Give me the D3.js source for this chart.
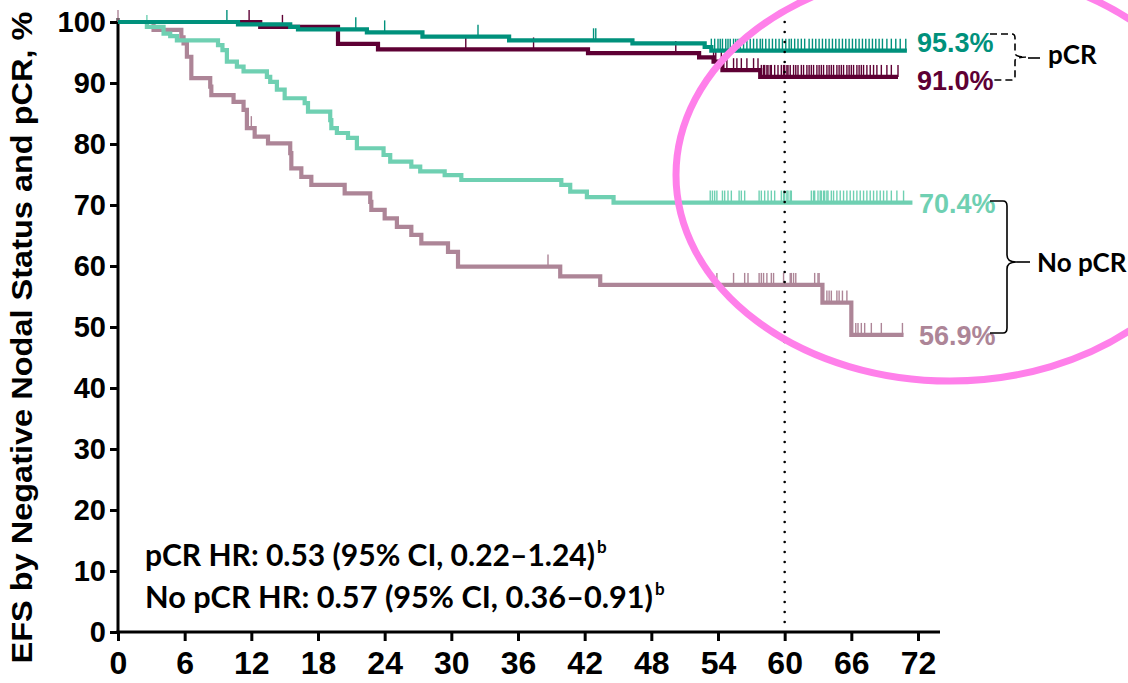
<!DOCTYPE html>
<html>
<head>
<meta charset="utf-8">
<script src="https://cdn.jsdelivr.net/npm/d3@7"></script>
<style>
  body { margin: 0; background: #fff; }
  svg { display: block; }
</style>
</head>
<body>
<script>
// Axis ticks
const xTicks = [0, 6, 12, 18, 24, 30, 36, 42, 48, 54, 60, 66, 72];
const yTicks = [0, 10, 20, 30, 40, 50, 60, 70, 80, 90, 100];

// pCR, dark teal arm
const pcrTealTimes  = [0, 10.8, 15.5, 16.2, 22.4, 27.4, 35.2, 46.3, 52.8, 53.4];
const pcrTealValues = [100, 99.6, 99.2, 98.8, 98.3, 97.6, 97.0, 96.5, 95.9, 95.3];
const pcrTealEnd = 71.0;
const pcrTealCensor = [9.8, 21.4, 24.0, 32.4, 42.8, 43.0,
  53.4, 53.7, 54.0, 54.2, 54.4, 54.7, 54.9, 55.1, 55.4, 55.6, 55.8, 56.0, 56.3, 56.6,
  56.9, 57.2, 57.5, 57.8, 58.0, 58.3, 58.6, 58.9, 59.2, 59.5, 59.8, 60.1, 60.4, 60.6,
  60.9, 61.2, 61.5, 61.8, 62.2, 62.5, 62.8, 63.1, 63.4, 63.7, 64.0, 64.3, 64.6, 64.9,
  65.2, 65.5, 65.8, 66.1, 66.4, 66.7, 67.0, 67.3, 67.6, 67.9, 68.2, 68.5, 68.8, 69.2,
  69.6, 70.0, 70.4, 70.9];

// pCR, maroon arm
const pcrMaroonTimes  = [0, 12.8, 19.8, 23.4, 42.3, 52.3, 53.6, 54.4, 57.8];
const pcrMaroonValues = [100, 99.2, 96.4, 95.5, 94.9, 94.2, 93.5, 92.1, 91.0];
const pcrMaroonEnd = 70.2;
const pcrMaroonCensor = [11.8, 14.8, 31.3, 37.4, 50.2,
  53.6, 53.8, 54.3, 54.8, 55.4, 55.7, 56.1, 56.6, 57.2, 57.6, 57.9, 58.1, 58.2, 58.4,
  58.5, 58.7, 58.8, 59.1, 59.4, 59.7, 59.9, 60.0, 60.2, 60.3, 60.5, 60.8, 61.0, 61.2,
  61.5, 61.7, 62.0, 62.2, 62.4, 62.6, 62.9, 63.1, 63.3, 63.5, 63.8, 64.0, 64.2, 64.4,
  64.7, 64.9, 65.1, 65.3, 65.6, 65.8, 66.0, 66.2, 66.5, 66.7, 66.9, 67.1, 67.4, 67.7,
  68.0, 68.3, 68.7, 69.2, 69.6, 70.2];

// No pCR, light teal arm
const noPcrTealTimes  = [0, 2.6, 4.1, 4.7, 5.3, 9.0, 9.4, 9.8, 10.7, 11.3, 13.4, 13.7, 14.3,
  15.0, 16.8, 17.1, 19.1, 19.2, 19.7, 20.7, 21.5, 23.9, 24.5, 26.4, 27.2, 29.4, 30.9,
  39.9, 40.7, 42.2, 44.6];
const noPcrTealValues = [100, 99.2, 98.1, 97.7, 97.0, 96.2, 95.4, 93.5, 92.7, 91.9, 91.0, 90.2,
  88.9, 87.5, 86.7, 85.3, 83.9, 82.6, 81.8, 81.0, 79.3, 78.2, 77.1, 76.3, 75.5, 74.9,
  74.1, 73.3, 72.2, 71.3, 70.4];
const noPcrTealEnd = 71.5;
const noPcrTealCensor = [2.6,
  53.3, 53.5, 53.7, 53.9, 54.4, 54.6, 54.9, 55.2, 55.9, 56.1, 56.4, 57.7, 57.9, 58.2,
  58.5, 58.8, 59.1, 59.7, 59.9, 60.0, 60.2, 60.3, 60.5, 60.6, 62.4, 62.6, 62.7, 63.0,
  63.2, 63.3, 63.5, 63.6, 63.8, 63.9, 64.2, 64.4, 64.7, 65.0, 65.3, 65.6, 65.9, 66.2,
  66.5, 66.8, 67.1, 67.4, 67.7, 68.0, 68.3, 68.6, 68.9, 69.2, 69.6, 70.1, 70.7];

// No pCR, mauve arm
const noPcrMauveTimes  = [0, 3.2, 5.7, 5.9, 6.2, 6.6, 8.3, 8.4, 10.4, 11.3, 11.6, 12.3, 13.5,
  15.5, 15.6, 16.5, 17.4, 20.4, 22.7, 22.8, 24.0, 25.1, 26.4, 27.3, 29.7, 30.6, 39.8,
  43.4, 63.4, 66.0];
const noPcrMauveValues = [100, 98.7, 97.5, 96.5, 94.3, 90.8, 89.4, 88.0, 86.9, 85.6, 82.6,
  81.2, 80.1, 78.5, 76.0, 74.6, 73.3, 71.9, 70.5, 69.2, 67.8, 66.4, 65.1, 63.7, 62.3,
  59.9, 58.3, 56.9, 54.0, 48.7];
const noPcrMauveEnd = 70.7;
const noPcrMauveCensor = [0, 12.0, 38.7,
  53.9, 55.4, 56.4, 56.7, 57.7, 57.9, 58.1, 58.4, 58.8, 59.0, 59.9, 60.5, 60.6, 60.8,
  61.0, 62.7, 63.0, 63.1, 63.8, 64.0, 64.2, 64.7, 64.9, 65.2, 65.6, 66.4, 66.6, 66.9,
  67.2, 67.8, 68.7, 70.6];

// Landmark labels at 60 months
const labelTexts  = ["95.3%", "91.0%", "70.4%", "56.9%"];
const hrLines = ["pCR HR: 0.53 (95% CI, 0.22\u20131.24)", "No pCR HR: 0.57 (95% CI, 0.36\u20130.91)"];

const width = 1128, height = 683;

const svg = d3.select("body").append("svg")
    .attr("width", width)
    .attr("height", height);

const x = d3.scaleLinear().domain([0, 72]).range([118, 918]);
const y = d3.scaleLinear().domain([0, 100]).range([632, 22]);

const series = [
    { times: noPcrMauveTimes, values: noPcrMauveValues, end: noPcrMauveEnd, censor: noPcrMauveCensor, color: "#ad8597" },
    { times: noPcrTealTimes, values: noPcrTealValues, end: noPcrTealEnd, censor: noPcrTealCensor, color: "#6fd0b2" },
    { times: pcrMaroonTimes, values: pcrMaroonValues, end: pcrMaroonEnd, censor: pcrMaroonCensor, color: "#5e0034" },
    { times: pcrTealTimes, values: pcrTealValues, end: pcrTealEnd, censor: pcrTealCensor, color: "#00917c" }
];

// y axis
const yAxis = svg.append("g")
    .attr("transform", `translate(${x(0)},0)`)
    .call(d3.axisLeft(y).tickValues(yTicks).tickSize(8).tickPadding(4).tickSizeOuter(0));
yAxis.select(".domain").remove();
yAxis.append("line").attr("x1", 0).attr("x2", 0).attr("y1", y(0) + 1.5).attr("y2", 18)
    .attr("stroke", "#000").attr("stroke-width", 3);
yAxis.selectAll(".tick line").attr("stroke-width", 3);
yAxis.selectAll(".tick text")
    .attr("fill", "#000")
    .style("font-family", "'Liberation Sans', Arial, sans-serif")
    .style("font-weight", "bold")
    .style("font-size", "29px");

// x axis
const xAxis = svg.append("g")
    .attr("transform", `translate(0,${y(0)})`)
    .call(d3.axisBottom(x).tickValues(xTicks).tickSize(9).tickPadding(10).tickSizeOuter(0));
xAxis.select(".domain").remove();
xAxis.append("line").attr("x1", x(0) - 1.5).attr("x2", 940).attr("y1", 0).attr("y2", 0)
    .attr("stroke", "#000").attr("stroke-width", 3);
xAxis.selectAll(".tick line").attr("stroke-width", 3);
xAxis.selectAll(".tick text")
    .attr("fill", "#000")
    .style("font-family", "'Liberation Sans Narrow', 'Arial Narrow', sans-serif")
    .style("font-weight", "bold")
    .style("font-size", "32px");

// y axis title
svg.append("text")
    .attr("transform", `translate(32,${(10 + 665) / 2}) rotate(-90)`)
    .attr("text-anchor", "middle")
    .attr("textLength", 652)
    .attr("lengthAdjust", "spacingAndGlyphs")
    .style("font-family", "'Liberation Sans', Arial, sans-serif")
    .style("font-weight", "bold")
    .style("font-size", "30px")
    .text("EFS by Negative Nodal Status and pCR, %");

// step curves and censor marks
const stepLine = d3.line()
    .x(d => x(d[0]))
    .y(d => y(d[1]))
    .curve(d3.curveStepAfter);

function valueAt(s, t) {
    const i = Math.max(0, d3.bisectRight(s.times, t) - 1);
    return s.values[i];
}

series.forEach(s => {
    const pts = s.times.map((t, i) => [t, s.values[i]]);
    pts.push([s.end, s.values[s.values.length - 1]]);
    svg.append("path")
        .datum(pts)
        .attr("fill", "none")
        .attr("stroke", s.color)
        .attr("stroke-width", 4.2)
        .attr("d", stepLine);

    svg.append("g").selectAll("line")
        .data(s.censor)
        .enter().append("line")
        .attr("x1", d => x(d)).attr("x2", d => x(d))
        .attr("y1", d => y(valueAt(s, d)))
        .attr("y2", d => y(valueAt(s, d)) - 12)
        .attr("stroke", s.color)
        .attr("stroke-width", 1.4);
});

// 60-month reference line
svg.append("line")
    .attr("x1", x(60)).attr("x2", x(60))
    .attr("y1", 22).attr("y2", y(0))
    .attr("stroke", "#000")
    .attr("stroke-width", 2.6)
    .attr("stroke-linecap", "round")
    .attr("stroke-dasharray", "0,10");

// landmark labels
const labelColors = ["#00917c", "#5e0034", "#6fd0b2", "#ad8597"];
const labelX = [917, 917, 919, 919];
const labelY = [52, 90, 213, 345];
labelTexts.forEach((t, i) => {
    svg.append("text")
        .attr("x", labelX[i]).attr("y", labelY[i])
        .attr("fill", labelColors[i])
        .style("font-family", "'Liberation Sans Narrow', 'Arial Narrow', sans-serif")
        .style("font-weight", "bold")
        .style("font-size", "27px")
        .text(t);
});

// pCR bracket (dashed)
svg.append("path")
    .attr("d", "M990,34 H1012 Q1015,34 1015,38 V53 Q1015,57 1026,57 Q1015,57 1015,61 V76 Q1015,80 1012,80 H993")
    .attr("fill", "none").attr("stroke", "#000").attr("stroke-width", 1.6)
    .attr("stroke-dasharray", "7,4");
svg.append("line")
    .attr("x1", 1028).attr("x2", 1040).attr("y1", 58).attr("y2", 58)
    .attr("stroke", "#000").attr("stroke-width", 1.6);
svg.append("text")
    .attr("x", 1048).attr("y", 64)
    .style("font-family", "Lato, 'Open Sans', sans-serif")
    .style("font-weight", "bold")
    .style("font-size", "26px")
    .text("pCR");

// No pCR bracket (solid)
svg.append("path")
    .attr("d", "M990,201 H1003 Q1007,201 1007,206 V255 Q1007,262 1016,262 Q1007,262 1007,269 V328 Q1007,333 1003,333 H990")
    .attr("fill", "none").attr("stroke", "#000").attr("stroke-width", 1.6);
svg.append("line")
    .attr("x1", 1016).attr("x2", 1030).attr("y1", 262).attr("y2", 262)
    .attr("stroke", "#000").attr("stroke-width", 1.6);
svg.append("text")
    .attr("x", 1037).attr("y", 272)
    .style("font-family", "Lato, 'Open Sans', sans-serif")
    .style("font-weight", "bold")
    .style("font-size", "26px")
    .text("No pCR");

// hazard ratio notes
const hrY = [566, 608];
const hrWidth = [450, 508];
hrLines.forEach((t, i) => {
    svg.append("text")
        .attr("x", 145).attr("y", hrY[i])
        .attr("textLength", hrWidth[i])
        .attr("lengthAdjust", "spacingAndGlyphs")
        .style("font-family", "Lato, 'Open Sans', sans-serif")
        .style("font-weight", "bold")
        .style("font-size", "30px")
        .text(t);
    svg.append("text")
        .attr("x", 145 + hrWidth[i] + 2).attr("y", hrY[i] - 13)
        .style("font-family", "Lato, 'Open Sans', sans-serif")
        .style("font-weight", "bold")
        .style("font-size", "17px")
        .text("b");
});

// highlight ellipse
svg.append("ellipse")
    .attr("cx", 950).attr("cy", 175)
    .attr("rx", 274).attr("ry", 206)
    .attr("fill", "none")
    .attr("stroke", "#ff80ea")
    .attr("stroke-width", 7);
</script>
</body>
</html>
